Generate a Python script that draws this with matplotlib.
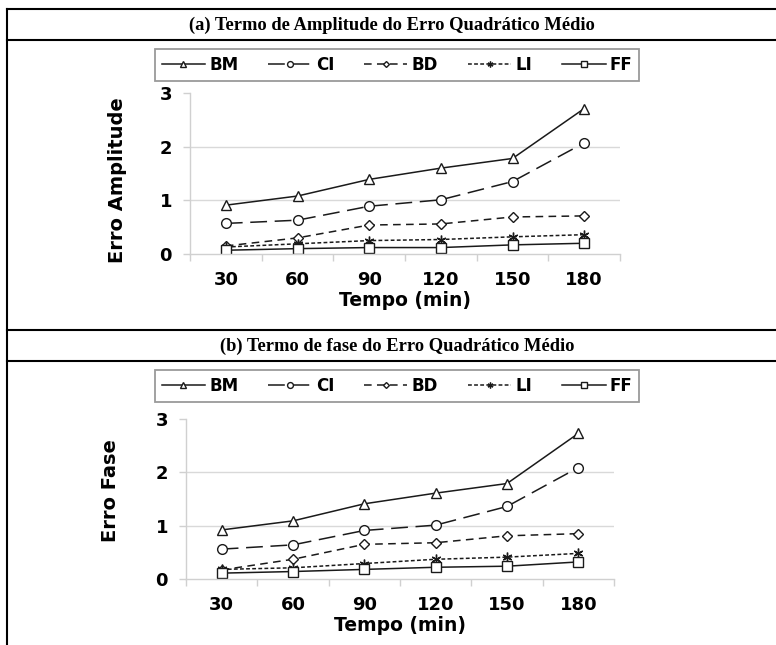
import matplotlib
matplotlib.use('Agg')
import matplotlib.pyplot as plt
from matplotlib.lines import Line2D

# tempo (min)
tempos = ['30', '60', '90', '120', '150', '180']
series = ['BM', 'CI', 'BD', 'LI', 'FF']

# (a) termo de amplitude
amp_bm = [0.91, 1.08, 1.39, 1.60, 1.78, 2.71]
amp_ci = [0.57, 0.63, 0.89, 1.01, 1.35, 2.07]
amp_bd = [0.15, 0.30, 0.54, 0.56, 0.69, 0.71]
amp_li = [0.13, 0.19, 0.25, 0.27, 0.32, 0.36]
amp_ff = [0.07, 0.10, 0.12, 0.12, 0.17, 0.20]

# (b) termo de fase
fase_bm = [0.92, 1.09, 1.41, 1.61, 1.79, 2.73]
fase_ci = [0.56, 0.64, 0.91, 1.01, 1.36, 2.09]
fase_bd = [0.17, 0.37, 0.65, 0.68, 0.81, 0.85]
fase_li = [0.18, 0.21, 0.29, 0.37, 0.41, 0.48]
fase_ff = [0.11, 0.14, 0.18, 0.22, 0.24, 0.32]

estilos = {
    'BM': dict(marker='^', dashes=()),
    'CI': dict(marker='o', dashes=(11, 5)),
    'BD': dict(marker='D', dashes=(5, 3.5)),
    'LI': dict(marker=(6, 2, 0), dashes=(2.5, 1.5)),
    'FF': dict(marker='s', dashes=()),
}
msize = {'BM': 7, 'CI': 7, 'BD': 5, 'LI': 7, 'FF': 6.5}

W, H = 776, 645
fig = plt.figure(figsize=(W / 100, H / 100), dpi=100)
sans = ['DejaVu Sans']
serif = ['Liberation Serif', 'DejaVu Serif']


def fx(px):
    return px / W


def fy(py):
    return 1 - py / H


def painel(rect, dados, ylabel, ylab_xy):
    ax = fig.add_axes(rect)
    x = [i + 0.5 for i in range(len(tempos))]
    for nome, vals in zip(series, dados):
        st = estilos[nome]
        kw = dict(color='#1a1a1a', lw=1.1, marker=st['marker'], ms=msize[nome],
                  mfc='white', mec='#1a1a1a', mew=1.0, label=nome)
        if st['dashes']:
            ax.plot(x, vals, dashes=st['dashes'], **kw)
        else:
            ax.plot(x, vals, ls='-', **kw)
    ax.set_xlim(0, 6)
    ax.set_ylim(0, 3)
    ax.set_yticks([0, 1, 2, 3])
    ax.set_yticklabels(['0', '1', '2', '3'], fontsize=13, fontweight='bold', family=sans)
    ax.set_xticks(range(7))
    ax.set_xticklabels([])
    ax.set_xticks(x, minor=True)
    ax.set_xticklabels(tempos, minor=True, fontsize=13, fontweight='bold', family=sans)
    ax.tick_params(axis='x', which='minor', length=0, pad=12)
    ax.tick_params(axis='x', which='major', length=5, color='#d0d0d0', width=1)
    ax.tick_params(axis='y', length=5, color='#d0d0d0', width=1, pad=8)
    for s in ['top', 'right']:
        ax.spines[s].set_visible(False)
    for s in ['left', 'bottom']:
        ax.spines[s].set_color('#d0d0d0')
        ax.spines[s].set_linewidth(1)
    for yv in [1, 2]:
        ax.axhline(yv, color='#d9d9d9', lw=1, zorder=0)
    ax.set_xlabel('Tempo (min)', fontsize=13.5, fontweight='bold', family=sans, labelpad=2)
    fig.text(fx(ylab_xy[0]), fy(ylab_xy[1]), ylabel, rotation=90, ha='center', va='center',
             fontsize=14, fontweight='bold', family=sans)
    return ax


ax_a = painel([fx(190), fy(254), fx(620) - fx(190), fy(93) - fy(254)],
              [amp_bm, amp_ci, amp_bd, amp_li, amp_ff], 'Erro Amplitude', (118, 180))
ax_b = painel([fx(186), fy(579), fx(614) - fx(186), fy(419) - fy(579)],
              [fase_bm, fase_ci, fase_bd, fase_li, fase_ff], 'Erro Fase', (110, 491))

for ax, cy in [(ax_a, 65), (ax_b, 386)]:
    handles, labels = ax.get_legend_handles_labels()
    leg = fig.legend(handles, labels, ncol=5, loc='center', bbox_to_anchor=(fx(397), fy(cy)),
                     frameon=True, fancybox=False, edgecolor='#808080', handlelength=2.6,
                     handletextpad=0.25, columnspacing=1.8, borderpad=0.4, markerscale=0.6,
                     prop={'family': sans, 'weight': 'bold', 'size': 12})
    leg.get_frame().set_linewidth(1.3)

# bordas da tabela
for yy in [9, 40, 330, 361]:
    fig.add_artist(Line2D([fx(7), 1], [fy(yy), fy(yy)], color='black', lw=1.5))
fig.add_artist(Line2D([fx(7), fx(7)], [fy(9), 0], color='black', lw=1.5))

fig.text(fx(392), fy(25), '(a) Termo de Amplitude do Erro Quadrático Médio', ha='center', va='center',
         fontsize=13.3, fontweight='bold', family=serif)
fig.text(fx(397), fy(346), '(b) Termo de fase do Erro Quadrático Médio', ha='center', va='center',
         fontsize=13.3, fontweight='bold', family=serif)

fig.savefig('out.png', dpi=100)
